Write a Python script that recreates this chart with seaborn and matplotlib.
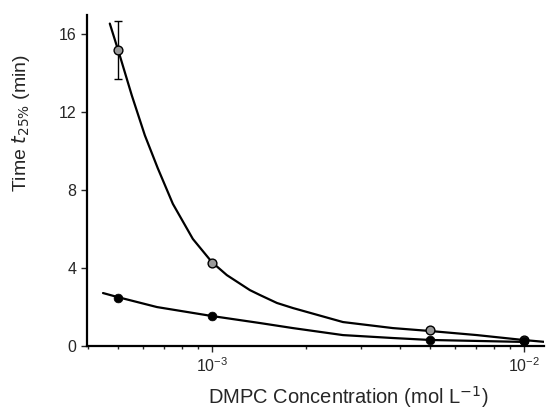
import matplotlib
matplotlib.use("Agg")
import matplotlib.pyplot as plt
import seaborn as sns
import pandas as pd

# Measured points
conc = [5e-4, 1e-3, 5e-3, 1e-2]
time_open = [15.2, 4.25, 0.8, 0.3]
time_open_err = [1.5, 0.0, 0.0, 0.0]
time_filled = [2.45, 1.55, 0.3, 0.25]

# Fitted curves
curve_x_upper = [4.71e-4, 5.07e-4, 5.54e-4, 6.10e-4, 6.71e-4, 7.50e-4,
                 8.69e-4, 1.0e-3, 1.117e-3, 1.324e-3, 1.425e-3, 1.616e-3,
                 1.818e-3, 2.63e-3, 3.80e-3, 5.0e-3, 7.07e-3, 9.93e-3, 1.167e-2]
curve_y_upper = [16.56, 14.92, 12.87, 10.82, 9.13, 7.30,
                 5.50, 4.31, 3.64, 2.87, 2.62, 2.21,
                 1.95, 1.23, 0.92, 0.77, 0.56, 0.31, 0.21]
curve_x_lower = [4.48e-4, 5.0e-4, 6.67e-4, 1.0e-3, 1.425e-3, 1.818e-3,
                 2.63e-3, 3.80e-3, 5.0e-3, 7.07e-3, 9.93e-3]
curve_y_lower = [2.72, 2.51, 2.0, 1.54, 1.18, 0.92,
                 0.56, 0.41, 0.31, 0.26, 0.21]

sns.set_style("ticks")
plt.rcParams['font.family'] = ['Liberation Sans', 'DejaVu Sans']

fig = plt.figure(figsize=(5.46, 4.16), dpi=100)
ax = fig.add_axes([87/546, 1-346/416, (544-87)/546, (346-15)/416])

df_up = pd.DataFrame({"x": curve_x_upper, "y": curve_y_upper})
df_lo = pd.DataFrame({"x": curve_x_lower, "y": curve_y_lower})
sns.lineplot(data=df_up, x="x", y="y", ax=ax, color="black", lw=1.6, sort=True)
sns.lineplot(data=df_lo, x="x", y="y", ax=ax, color="black", lw=1.6, sort=True)

ax.errorbar(conc, time_open, yerr=time_open_err, fmt="none", ecolor="black",
            elinewidth=1.0, capsize=3, zorder=3)
pts_open = pd.DataFrame({"x": conc, "y": time_open})
pts_fill = pd.DataFrame({"x": conc, "y": time_filled})
sns.scatterplot(data=pts_open, x="x", y="y", ax=ax, marker="o", s=40,
                facecolor="#999999", edgecolor="black", linewidth=1.0, zorder=4)
sns.scatterplot(data=pts_fill, x="x", y="y", ax=ax, marker="o", s=40,
                color="black", edgecolor="black", zorder=4)

ax.set_xscale("log")
ax.set_xlim(10**-3.4, 10**-1.936)
ax.set_ylim(0, 17)
ax.set_yticks([0, 4, 8, 12, 16])
ax.set_xticks([1e-3, 1e-2])
ax.tick_params(axis="both", labelsize=11.5, direction="out", length=4, width=1)
ax.tick_params(axis="x", which="minor", length=2.5, width=1)
for s in ["top", "right"]:
    ax.spines[s].set_visible(False)
for s in ["left", "bottom"]:
    ax.spines[s].set_linewidth(1.6)
    ax.spines[s].set_color("black")

ax.set_xlabel("DMPC Concentration (mol L$^{-1}$)", fontsize=14.5)
ax.set_ylabel("Time $t_{25\\%}$ (min)", fontsize=14)
ax.xaxis.set_label_coords(0.571, -0.115)
ax.yaxis.set_label_coords(-0.12, 0.674)

fig.savefig("out.png", dpi=100)
